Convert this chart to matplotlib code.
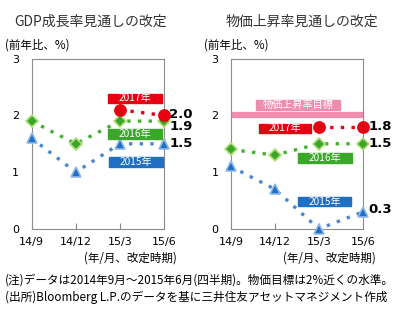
import matplotlib.pyplot as plt
import matplotlib.patches as mpatches

plt.rcParams['font.family'] = ['Noto Sans CJK JP', 'DejaVu Sans']

# data
periods = ['14/9', '14/12', '15/3', '15/6']
gdp_2015 = [1.6, 1.0, 1.5, 1.5]
gdp_2016 = [1.9, 1.5, 1.9, 1.9]
gdp_2017 = [None, None, 2.1, 2.0]
cpi_2015 = [1.1, 0.7, 0.0, 0.3]
cpi_2016 = [1.4, 1.3, 1.5, 1.5]
cpi_2017 = [None, None, 1.8, 1.8]
cpi_target = 2.0
y_ticks = [0, 1, 2, 3]

RED = '#e60012'
GREEN = '#3aa62a'
BLUE = '#1f6fc4'
PINK = '#f08cb0'

fig = plt.figure(figsize=(4.05, 3.21), dpi=100)
ax1 = fig.add_axes([0.078, 0.287, 0.327, 0.53])
ax2 = fig.add_axes([0.570, 0.287, 0.326, 0.53])


def label_box(ax, cx, cy, text, color, w=1.22, h=0.17):
    # colored tag with white text
    rect = mpatches.Rectangle((cx - w / 2, cy - h / 2), w, h, color=color,
                              zorder=5, clip_on=False)
    ax.add_patch(rect)
    ax.text(cx, cy, text, color='white', fontsize=7.3, ha='center',
            va='center', zorder=6, clip_on=False)


def draw_series(ax, ys, color, marker, ms, line_color, edge):
    xs = [i for i, v in enumerate(ys) if v is not None]
    vs = [v for v in ys if v is not None]
    ax.plot(xs, vs, color=line_color, linestyle=(0, (1, 2.2)), linewidth=2.4,
            zorder=3, clip_on=False)
    ax.plot(xs, vs, linestyle='none', marker=marker, markersize=ms,
            markerfacecolor=color, markeredgecolor=edge, markeredgewidth=1.2,
            zorder=4, clip_on=False)


def setup(ax, title, title_x):
    ax.set_xlim(0, 3)
    ax.set_ylim(0, 3)
    ax.set_xticks(range(len(periods)))
    ax.set_xticklabels(periods, fontsize=8, family='DejaVu Sans')
    ax.set_yticks(y_ticks)
    ax.set_yticklabels([str(t) for t in y_ticks], fontsize=8, family='DejaVu Sans')
    ax.tick_params(axis='x', direction='in', length=4, color='#888888', pad=6)
    ax.tick_params(axis='y', length=0, pad=9)
    for s in ax.spines.values():
        s.set_color('#8c8c8c')
    ax.text(-0.6, 3.25, '(前年比、%)', fontsize=8.3, ha='left', va='center',
            clip_on=False)
    ax.text(1.18, -0.52, '(年/月、改定時期)', fontsize=8.3, ha='left', va='center',
            clip_on=False)
    ax.text(title_x, 3.65, title, fontsize=10, ha='center', va='center',
            color='#333333', clip_on=False)


def end_label(ax, y, text):
    ax.text(3.12, y, text, fontsize=9.5, fontweight='bold', ha='left',
            va='center', family='DejaVu Sans', clip_on=False)


# GDP panel
setup(ax1, 'GDP成長率見通しの改定', 1.34)
draw_series(ax1, gdp_2015, BLUE, '^', 7, '#4a86d0', '#8fb8ea')
draw_series(ax1, gdp_2016, GREEN, 'D', 6, '#43b02e', '#b4e07a')
draw_series(ax1, gdp_2017, RED, 'o', 8, RED, RED)
label_box(ax1, 2.34, 2.30, '2017年', RED)
label_box(ax1, 2.35, 1.67, '2016年', GREEN)
label_box(ax1, 2.36, 1.18, '2015年', BLUE)
end_label(ax1, gdp_2017[3] + 0.02, '2.0')
end_label(ax1, gdp_2016[3] - 0.1, '1.9')
end_label(ax1, gdp_2015[3], '1.5')

# price panel
setup(ax2, '物価上昇率見通しの改定', 1.62)
ax2.axhline(cpi_target, color=PINK, linewidth=4.5, zorder=2)
label_box(ax2, 1.53, 2.19, '物価上昇率目標', PINK, w=1.9, h=0.18)
draw_series(ax2, cpi_2015, BLUE, '^', 7, '#4a86d0', '#8fb8ea')
draw_series(ax2, cpi_2016, GREEN, 'D', 6, '#43b02e', '#b4e07a')
draw_series(ax2, cpi_2017, RED, 'o', 8, RED, RED)
label_box(ax2, 1.23, 1.77, '2017年', RED, w=1.18)
label_box(ax2, 2.14, 1.25, '2016年', GREEN)
label_box(ax2, 2.13, 0.48, '2015年', BLUE)
end_label(ax2, cpi_2017[3], '1.8')
end_label(ax2, cpi_2016[3], '1.5')
end_label(ax2, cpi_2015[3] + 0.05, '0.3')

fig.text(0.012, 0.128, '(注)データは2014年9月～2015年6月(四半期)。物価目標は2%近くの水準。',
         fontsize=8.4, ha='left', va='center')
fig.text(0.012, 0.075, '(出所)Bloomberg L.P.のデータを基に三井住友アセットマネジメント作成',
         fontsize=8.4, ha='left', va='center')

fig.savefig('out.png', dpi=100)
